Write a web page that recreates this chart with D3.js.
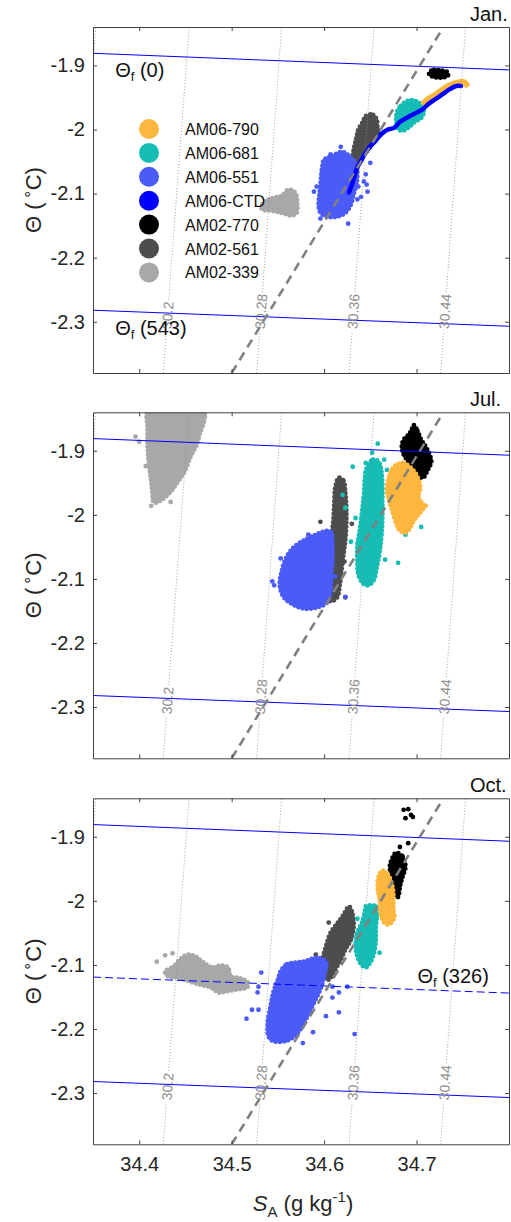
<!DOCTYPE html>
<html>
<head>
<meta charset="utf-8">
<script src="https://cdn.jsdelivr.net/npm/d3@7"></script>
<style>
  body { margin: 0; background: #fff; }
  svg { display: block; }
  text { font-family: "Liberation Sans", Arial, Helvetica, sans-serif; }
</style>
</head>
<body>
<svg id="chart" width="511" height="1222"></svg>
<script>
// ---- series / ticks ----
const months = ["Jan.", "Jul.", "Oct."];
const seriesNames = ["AM06-790", "AM06-681", "AM06-551", "AM06-CTD", "AM02-770", "AM02-561", "AM02-339"];
const seriesColors = ["#FDB73F", "#15BDB5", "#4A5BF7", "#0000FF", "#000000", "#4D4D4D", "#A8A8A8"];
const xTicks = [34.4, 34.5, 34.6, 34.7];
const yTicks = [-1.9, -2, -2.1, -2.2, -2.3];
const xDomain = [34.35, 34.8];
const yDomain = [-2.38, -1.84];

// density contours (S at bottom and top of the Θ range)
const sigmaLabels = ["", "30.2", "30.28", "30.36", "30.44"];
const sigmaSBottom = [34.325, 34.426, 34.527, 34.627, 34.726];
const sigmaSTop = [34.353, 34.454, 34.554, 34.654, 34.753];
const sigmaLabelTheta = -2.311;

// freezing lines and melt line [S, Θ]
const freeze0 = [[34.35, -1.881], [34.8, -1.907]];
const freeze543 = [[34.35, -2.282], [34.8, -2.307]];
const freeze326 = [[34.35, -2.119], [34.8, -2.144]];
const meltLine = [[34.5, -2.38], [34.727, -1.845]];

// ---- Jan. ----
const jan339 = [[34.533,-2.117],[34.540,-2.109],[34.547,-2.106],[34.555,-2.103],[34.560,-2.095],[34.566,-2.095],[34.570,-2.103],[34.571,-2.117],[34.570,-2.131],[34.564,-2.134],[34.556,-2.131],[34.548,-2.128],[34.540,-2.126],[34.533,-2.125]];
const jan561 = [[34.645,-1.979],[34.653,-1.977],[34.657,-1.985],[34.658,-2.000],[34.660,-2.005],[34.656,-2.013],[34.650,-2.027],[34.645,-2.036],[34.640,-2.047],[34.636,-2.055],[34.631,-2.050],[34.632,-2.031],[34.635,-2.013],[34.637,-2.000],[34.642,-1.988]];
const jan770 = [[34.714,-1.910],[34.719,-1.907],[34.726,-1.908],[34.733,-1.910],[34.734,-1.916],[34.726,-1.919],[34.719,-1.918],[34.714,-1.915]];
const jan551 = [[34.600,-2.047],[34.609,-2.041],[34.620,-2.035],[34.629,-2.044],[34.635,-2.055],[34.636,-2.070],[34.635,-2.086],[34.632,-2.101],[34.629,-2.117],[34.623,-2.130],[34.614,-2.136],[34.603,-2.136],[34.596,-2.130],[34.594,-2.117],[34.595,-2.101],[34.596,-2.086],[34.597,-2.070],[34.598,-2.058]];
const jan551Dots = [[34.589,-2.097],[34.592,-2.089],[34.618,-2.027],[34.626,-2.147],[34.596,-2.139],[34.637,-2.089],[34.645,-2.070],[34.650,-2.052],[34.636,-2.109],[34.643,-2.081],[34.602,-2.052],[34.615,-2.041],[34.647,-2.097],[34.640,-2.105],[34.607,-2.039],[34.646,-2.086]];
const jan681 = [[34.679,-1.972],[34.683,-1.963],[34.688,-1.957],[34.695,-1.954],[34.701,-1.957],[34.706,-1.963],[34.708,-1.972],[34.705,-1.982],[34.698,-1.988],[34.692,-1.996],[34.685,-2.002],[34.680,-1.999],[34.678,-1.986]];
const jan790 = [[34.708,-1.958],[34.713,-1.952],[34.720,-1.946],[34.726,-1.940],[34.733,-1.933],[34.739,-1.929],[34.746,-1.926],[34.751,-1.926],[34.754,-1.930]];
const janCTD = [[34.627,-2.098],[34.630,-2.086],[34.633,-2.072],[34.636,-2.059],[34.640,-2.049],[34.644,-2.038],[34.649,-2.028],[34.656,-2.017],[34.662,-2.007],[34.669,-2.000],[34.676,-1.997],[34.682,-1.988],[34.689,-1.982],[34.698,-1.975],[34.706,-1.969],[34.713,-1.960],[34.721,-1.952],[34.729,-1.944],[34.736,-1.937],[34.743,-1.932],[34.748,-1.932]];

// ---- Jul. ----
const jul339 = [[34.410,-1.836],[34.469,-1.836],[34.470,-1.855],[34.466,-1.871],[34.462,-1.891],[34.455,-1.911],[34.450,-1.930],[34.442,-1.948],[34.434,-1.964],[34.425,-1.976],[34.416,-1.981],[34.414,-1.961],[34.412,-1.938],[34.410,-1.914],[34.409,-1.891],[34.409,-1.864]];
const jul339Dots = [[34.396,-1.878],[34.400,-1.886],[34.434,-1.980],[34.413,-1.986],[34.471,-1.846],[34.407,-1.924]];
const jul561 = [[34.616,-1.942],[34.621,-1.947],[34.623,-1.966],[34.624,-1.989],[34.624,-2.015],[34.623,-2.039],[34.621,-2.062],[34.619,-2.085],[34.617,-2.109],[34.614,-2.129],[34.607,-2.135],[34.604,-2.126],[34.602,-2.104],[34.603,-2.082],[34.606,-2.057],[34.608,-2.034],[34.610,-2.008],[34.611,-1.981],[34.612,-1.958]];
const jul561Dots = [[34.596,-2.011],[34.623,-2.129],[34.630,-2.014],[34.622,-2.073]];
const jul770 = [[34.697,-1.860],[34.701,-1.869],[34.705,-1.883],[34.710,-1.894],[34.714,-1.906],[34.716,-1.917],[34.712,-1.930],[34.707,-1.942],[34.700,-1.939],[34.696,-1.930],[34.691,-1.917],[34.686,-1.906],[34.684,-1.894],[34.686,-1.883],[34.692,-1.874],[34.695,-1.866]];
const jul551 = [[34.607,-2.026],[34.609,-2.047],[34.609,-2.070],[34.608,-2.093],[34.607,-2.117],[34.603,-2.137],[34.591,-2.145],[34.577,-2.146],[34.564,-2.138],[34.556,-2.128],[34.552,-2.110],[34.554,-2.089],[34.559,-2.067],[34.567,-2.051],[34.578,-2.040],[34.591,-2.031],[34.600,-2.026]];
const jul551Dots = [[34.544,-2.104],[34.546,-2.110],[34.553,-2.068],[34.583,-2.031],[34.612,-2.096],[34.571,-2.050],[34.556,-2.090],[34.623,-2.128]];
const jul681 = [[34.646,-1.927],[34.653,-1.914],[34.659,-1.917],[34.662,-1.933],[34.663,-1.956],[34.663,-1.981],[34.663,-2.008],[34.662,-2.034],[34.660,-2.059],[34.657,-2.082],[34.654,-2.101],[34.648,-2.110],[34.642,-2.107],[34.637,-2.093],[34.636,-2.070],[34.636,-2.047],[34.639,-2.020],[34.641,-1.995],[34.643,-1.969],[34.644,-1.945]];
const jul681Dots = [[34.631,-1.925],[34.645,-1.919],[34.658,-1.889],[34.652,-1.903],[34.665,-1.914],[34.620,-1.969],[34.623,-1.989],[34.634,-2.005],[34.629,-2.042],[34.680,-2.075],[34.666,-2.070],[34.674,-1.981],[34.692,-1.984],[34.705,-2.019],[34.688,-2.031],[34.668,-1.930]];
const jul790 = [[34.678,-1.922],[34.686,-1.919],[34.696,-1.930],[34.701,-1.941],[34.704,-1.958],[34.702,-1.973],[34.708,-1.987],[34.702,-2.000],[34.697,-2.009],[34.692,-2.023],[34.687,-2.028],[34.681,-2.023],[34.678,-2.014],[34.674,-1.995],[34.670,-1.976],[34.668,-1.961],[34.670,-1.942],[34.673,-1.930]];
const jul790Dots = [[34.710,-1.986]];

// ---- Oct. ----
const oct339 = [[34.428,-2.110],[34.436,-2.104],[34.444,-2.092],[34.452,-2.084],[34.461,-2.087],[34.469,-2.096],[34.479,-2.104],[34.488,-2.101],[34.496,-2.104],[34.499,-2.118],[34.509,-2.121],[34.517,-2.127],[34.517,-2.135],[34.507,-2.138],[34.495,-2.141],[34.486,-2.143],[34.477,-2.135],[34.466,-2.131],[34.455,-2.126],[34.442,-2.120],[34.431,-2.118]];
const oct339Dots = [[34.419,-2.095],[34.428,-2.085],[34.436,-2.082]];
const oct561 = [[34.627,-2.009],[34.631,-2.022],[34.632,-2.040],[34.629,-2.061],[34.623,-2.076],[34.618,-2.092],[34.612,-2.107],[34.605,-2.123],[34.600,-2.118],[34.598,-2.096],[34.602,-2.071],[34.607,-2.050],[34.615,-2.034],[34.621,-2.022]];
const oct561Dots = [[34.605,-2.034],[34.591,-2.084]];
const oct770 = [[34.678,-1.925],[34.685,-1.931],[34.688,-1.947],[34.685,-1.962],[34.682,-1.978],[34.680,-1.994],[34.675,-1.986],[34.674,-1.967],[34.671,-1.948],[34.673,-1.936]];
const oct770Dots = [[34.686,-1.858],[34.691,-1.857],[34.688,-1.871],[34.694,-1.866],[34.696,-1.869],[34.682,-1.916],[34.691,-1.910]];
const oct551 = [[34.553,-2.110],[34.560,-2.099],[34.578,-2.095],[34.593,-2.089],[34.602,-2.096],[34.600,-2.118],[34.596,-2.138],[34.589,-2.159],[34.582,-2.180],[34.571,-2.207],[34.560,-2.218],[34.545,-2.219],[34.540,-2.212],[34.539,-2.190],[34.542,-2.165],[34.545,-2.143],[34.550,-2.123]];
const oct551Dots = [[34.516,-2.184],[34.522,-2.170],[34.529,-2.170],[34.528,-2.143],[34.529,-2.134],[34.532,-2.112],[34.609,-2.151],[34.602,-2.180],[34.588,-2.205],[34.616,-2.143],[34.616,-2.174],[34.609,-2.134],[34.633,-2.208],[34.625,-2.134],[34.577,-2.222]];
const oct681 = [[34.645,-2.009],[34.656,-2.009],[34.657,-2.025],[34.656,-2.040],[34.656,-2.061],[34.654,-2.081],[34.650,-2.096],[34.645,-2.104],[34.640,-2.099],[34.636,-2.087],[34.634,-2.071],[34.636,-2.050],[34.641,-2.034],[34.644,-2.017]];
const oct681Dots = [[34.636,-2.028],[34.660,-2.081],[34.658,-2.022]];
const oct790 = [[34.663,-1.953],[34.669,-1.959],[34.674,-1.978],[34.675,-1.991],[34.675,-2.014],[34.676,-2.026],[34.670,-2.037],[34.665,-2.034],[34.661,-2.019],[34.660,-1.998],[34.658,-1.980],[34.659,-1.962]];

// per panel: [series index, hull, dots, kind]
const panelLayers = [
  [[6, jan339, []], [5, jan561, []], [4, jan770, []], [2, jan551, jan551Dots], [1, jan681, []],
   [0, jan790, [], "band"], [3, janCTD, [], "line"]],
  [[6, jul339, jul339Dots], [5, jul561, jul561Dots], [4, jul770, []], [2, jul551, jul551Dots],
   [1, jul681, jul681Dots], [0, jul790, jul790Dots]],
  [[6, oct339, oct339Dots], [5, oct561, oct561Dots], [4, oct770, oct770Dots], [2, oct551, oct551Dots],
   [1, oct681, oct681Dots], [0, oct790, []]]
];

// ---- layout ----
const left = 93, right = 509, panelH = 346;
const panelTops = [27, 412.3, 798.3];
const axisColor = "#404040", textColor = "#262626";
const fontStack = '"Liberation Sans", Arial, Helvetica, sans-serif';

const svg = d3.select("#chart");
const x = d3.scaleLinear().domain(xDomain).range([left, right]);

function drawPanel(i) {
  const top = panelTops[i];
  const bottom = top + panelH;
  const y = d3.scaleLinear().domain(yDomain).range([bottom, top]);
  const line = d3.line().x(d => x(d[0])).y(d => y(d[1]));
  const smooth = d3.line().x(d => x(d[0])).y(d => y(d[1])).curve(d3.curveCatmullRom);
  const blob = d3.line().x(d => x(d[0])).y(d => y(d[1])).curve(d3.curveCatmullRomClosed.alpha(0.5));
  const g = svg.append("g");

  svg.append("defs").append("clipPath").attr("id", "clip" + i)
    .append("rect").attr("x", left).attr("y", top).attr("width", right - left).attr("height", panelH);

  const dataG = g.append("g").attr("clip-path", `url(#clip${i})`);

  // scatter clouds: filled outline with a rim of dots
  panelLayers[i].forEach(([s, pts, dots, kind]) => {
    const c = seriesColors[s];
    if (kind === "line" || kind === "band") {
      dataG.append("path").datum(pts)
        .attr("d", smooth)
        .attr("fill", "none").attr("stroke", c)
        .attr("stroke-width", kind === "band" ? 6 : 4.5)
        .attr("stroke-linecap", "round").attr("stroke-linejoin", "round");
    } else {
      dataG.append("path").datum(pts)
        .attr("d", blob)
        .attr("fill", c).attr("stroke", c).attr("stroke-width", 1.5)
        .attr("stroke-linejoin", "round");
      dataG.append("path").datum(pts)
        .attr("d", blob)
        .attr("fill", "none").attr("stroke", c).attr("stroke-width", 4.8)
        .attr("stroke-linecap", "round").attr("stroke-dasharray", "0,4.2");
    }
    dataG.selectAll(null).data(dots).join("circle")
      .attr("cx", d => x(d[0])).attr("cy", d => y(d[1])).attr("r", 2.4)
      .attr("fill", c);
  });

  // density contours with labels
  sigmaLabels.forEach((lab, k) => {
    const p0 = [x(sigmaSBottom[k]), y(yDomain[0])];
    const p1 = [x(sigmaSTop[k]), y(yDomain[1])];
    const len = Math.hypot(p1[0] - p0[0], p1[1] - p0[1]);
    const at = t => [p0[0] + (p1[0] - p0[0]) * t, p0[1] + (p1[1] - p0[1]) * t];
    const segs = [];
    if (lab) {
      const t0 = (y(sigmaLabelTheta) - p0[1]) / (p1[1] - p0[1]);
      const pl = at(t0);
      const ang = Math.atan2(p1[1] - p0[1], p1[0] - p0[0]) * 180 / Math.PI;
      const txt = g.append("text")
        .attr("transform", `translate(${pl[0]},${pl[1]}) rotate(${ang})`)
        .attr("dy", "0.35em")
        .attr("font-size", 14).attr("fill", "#8c8c8c")
        .text(lab);
      const L = txt.node().getComputedTextLength();
      segs.push([p0, at(t0 - 2 / len)], [at(t0 + (L + 2) / len), p1]);
    } else {
      segs.push([p0, p1]);
    }
    segs.forEach(sg => dataG.append("line")
      .attr("x1", sg[0][0]).attr("y1", sg[0][1]).attr("x2", sg[1][0]).attr("y2", sg[1][1])
      .attr("stroke", "#8c8c8c").attr("stroke-width", 0.8).attr("stroke-dasharray", "1,2"));
  });

  // freezing lines
  [freeze0, freeze543].forEach(f => dataG.append("path").datum(f).attr("d", line)
    .attr("stroke", "#0000FF").attr("stroke-width", 1).attr("fill", "none"));
  if (i === 2) {
    dataG.append("path").datum(freeze326).attr("d", line)
      .attr("stroke", "#0000FF").attr("stroke-width", 1).attr("fill", "none")
      .attr("stroke-dasharray", "8,4");
  }

  // melt (Gade) line
  dataG.append("path").datum(meltLine).attr("d", line)
    .attr("stroke", "#808080").attr("stroke-width", 2.6).attr("fill", "none")
    .attr("stroke-dasharray", "9,6");

  // Θf labels
  const thetaF = (sx, ty, p) => {
    const t = g.append("text").attr("x", x(sx)).attr("y", y(ty))
      .attr("font-family", '"DejaVu Sans", sans-serif').attr("font-size", 20).attr("fill", "#111");
    t.append("tspan").text("Θ");
    t.append("tspan").attr("font-size", 13).attr("dy", 4).text("f");
    t.append("tspan").attr("dy", -4).text(` (${p})`);
  };
  if (i === 0) {
    thetaF(34.374, -1.918, 0);
    thetaF(34.374, -2.321, 543);
  }
  if (i === 2) thetaF(34.701, -2.128, 326);

  // axes (inward ticks on all four sides)
  const styleAxis = sel => {
    sel.attr("font-size", 20).attr("font-family", fontStack);
    sel.selectAll("path,line").attr("stroke", axisColor);
    sel.selectAll("text").attr("fill", textColor);
  };
  g.append("g").attr("transform", `translate(0,${bottom})`)
    .call(d3.axisBottom(x).tickValues(xTicks).tickSizeInner(-4).tickSizeOuter(0).tickPadding(13)
      .tickFormat(i === 2 ? d3.format(".1f") : ""))
    .call(styleAxis);
  g.append("g").attr("transform", `translate(0,${top})`)
    .call(d3.axisTop(x).tickValues(xTicks).tickSizeInner(-4).tickSizeOuter(0).tickFormat(""))
    .call(styleAxis);
  g.append("g").attr("transform", `translate(${left},0)`)
    .call(d3.axisLeft(y).tickValues(yTicks).tickSizeInner(-4).tickSizeOuter(0).tickPadding(8)
      .tickFormat(d => String(d)))
    .call(styleAxis);
  g.append("g").attr("transform", `translate(${right},0)`)
    .call(d3.axisRight(y).tickValues(yTicks).tickSizeInner(-4).tickSizeOuter(0).tickFormat(""))
    .call(styleAxis);

  // y label
  const yl = g.append("text")
    .attr("transform", `translate(41,${top + panelH / 2}) rotate(-90)`)
    .attr("text-anchor", "middle").attr("font-size", 22).attr("fill", textColor);
  yl.append("tspan").text("Θ (");
  yl.append("tspan").attr("font-size", 15).attr("dy", -9).attr("dx", 3).text("∘");
  yl.append("tspan").attr("dy", 9).text("C)");

  // month
  g.append("text").attr("x", 470).attr("y", top - 6)
    .attr("font-size", 20).attr("fill", "#111").text(months[i]);
}

[0, 1, 2].forEach(drawPanel);

// legend (top panel)
const legend = svg.append("g");
seriesNames.forEach((name, k) => {
  const cy = 129 + k * 23.9;
  legend.append("circle").attr("cx", 149).attr("cy", cy).attr("r", 10).attr("fill", seriesColors[k]);
  legend.append("text").attr("x", 185).attr("y", cy + 6)
    .attr("font-size", 16).attr("fill", "#111").text(name);
});

// x label
const xl = svg.append("text").attr("x", 303).attr("y", 1211)
  .attr("text-anchor", "middle").attr("font-size", 22).attr("fill", textColor);
xl.append("tspan").attr("font-style", "italic").text("S");
xl.append("tspan").attr("font-size", 15).attr("dy", 6).text("A");
xl.append("tspan").attr("dy", -6).text(" (g kg");
xl.append("tspan").attr("font-size", 15).attr("dy", -9).text("-1");
xl.append("tspan").attr("dy", 9).text(")");
</script>
</body>
</html>
